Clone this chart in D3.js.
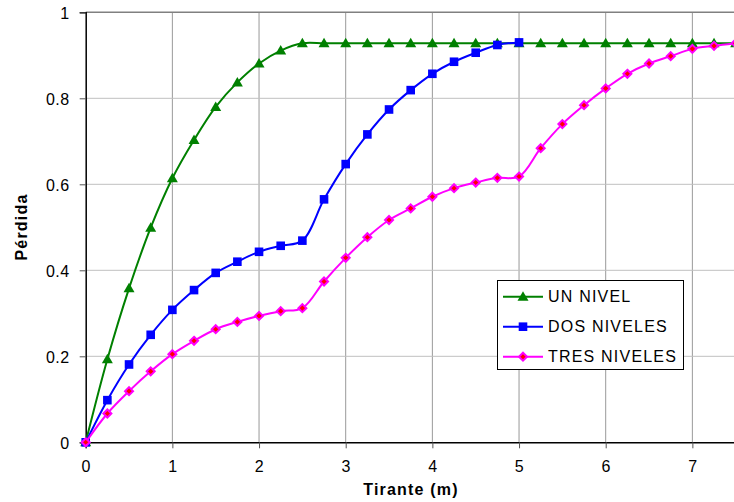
<!DOCTYPE html>
<html>
<head>
<meta charset="utf-8">
<script src="https://cdn.jsdelivr.net/npm/d3@7"></script>
<style>
  body { margin: 0; background: #fff; }
  text { font-family: "Liberation Sans", Arial, sans-serif; fill: #000; }
</style>
</head>
<body>
<div id="chart"></div>
<script>
var svgWidth = 734;
var svgHeight = 502;

// chart data
var tirante = [0, 0.25, 0.5, 0.75, 1, 1.25, 1.5, 1.75, 2, 2.25, 2.5, 2.75, 3, 3.25, 3.5, 3.75,
  4, 4.25, 4.5, 4.75, 5, 5.25, 5.5, 5.75, 6, 6.25, 6.5, 6.75, 7, 7.25, 7.5];
var unNivel = [0, 0.193, 0.358, 0.499, 0.614, 0.703, 0.780, 0.837, 0.881, 0.911, 0.928,
  0.928, 0.928, 0.928, 0.928, 0.928, 0.928, 0.928, 0.928, 0.928, 0.928,
  0.928, 0.928, 0.928, 0.928, 0.928, 0.928, 0.928, 0.928, 0.928, 0.928];
var dosNiveles = [0, 0.098, 0.181, 0.250, 0.308, 0.354, 0.394, 0.420, 0.443, 0.457, 0.469,
  0.565, 0.647, 0.716, 0.774, 0.819, 0.857, 0.885, 0.906, 0.924, 0.930];
var tresNiveles = [0, 0.067, 0.119, 0.165, 0.205, 0.236, 0.263, 0.280, 0.294, 0.305, 0.312,
  0.374, 0.429, 0.477, 0.517, 0.544, 0.571, 0.591, 0.604, 0.615, 0.618,
  0.684, 0.740, 0.784, 0.823, 0.857, 0.881, 0.898, 0.915, 0.922, 0.928];
var seriesNames = ["UN NIVEL", "DOS NIVELES", "TRES NIVELES"];
var xTicks = [0, 1, 2, 3, 4, 5, 6, 7];
var yTicks = [0, 0.2, 0.4, 0.6, 0.8, 1];

var series = [
  { name: seriesNames[0], values: unNivel, color: "#008000", shape: "triangle" },
  { name: seriesNames[1], values: dosNiveles, color: "#0000ff", shape: "square" },
  { name: seriesNames[2], values: tresNiveles, color: "#ff00ff", shape: "diamond" }
];

var svg = d3.select("#chart")
  .append("svg")
  .attr("width", svgWidth)
  .attr("height", svgHeight);

var x = d3.scaleLinear().domain([0, 7.5]).range([85.7, 735.7]);
var y = d3.scaleLinear().domain([0, 1]).range([442.3, 12.3]);

// grid
svg.append("g").selectAll("line")
  .data(xTicks.slice(1))
  .enter().append("line")
  .attr("x1", d => x(d)).attr("x2", d => x(d))
  .attr("y1", y(1)).attr("y2", y(0))
  .attr("stroke", "#999").attr("stroke-width", 1);

svg.append("g").selectAll("line")
  .data(yTicks.slice(1, -1))
  .enter().append("line")
  .attr("x1", x(0)).attr("x2", x(7.5))
  .attr("y1", d => y(d)).attr("y2", d => y(d))
  .attr("stroke", "#c0c0c0").attr("stroke-width", 1);

// top border
svg.append("line")
  .attr("x1", x(0)).attr("x2", x(7.5))
  .attr("y1", y(1)).attr("y2", y(1))
  .attr("stroke", "#808080").attr("stroke-width", 1.5);

// axes
var xAxis = svg.append("g")
  .attr("transform", `translate(0, ${y(0)})`)
  .call(d3.axisBottom(x).tickValues(xTicks).tickSize(6).tickPadding(12).tickFormat(d3.format("d")));
var yAxis = svg.append("g")
  .attr("transform", `translate(${x(0)}, 0)`)
  .call(d3.axisLeft(y).tickValues(yTicks).tickSize(6).tickPadding(10).tickFormat(d => d === 0 || d === 1 ? d : d.toFixed(1)));

[xAxis, yAxis].forEach(function(ax) {
  ax.select(".domain").attr("stroke", "#000").attr("stroke-width", 1.5);
  ax.selectAll(".tick line").attr("stroke", "#555");
  ax.selectAll(".tick text")
    .style("font-family", "'Liberation Sans', Arial, sans-serif")
    .style("font-size", "16px")
    .style("letter-spacing", "0.5px")
    .attr("fill", "#000");
});
yAxis.selectAll(".tick text").attr("dy", "0.36em");

// axis titles
svg.append("text")
  .attr("x", 411).attr("y", 495)
  .attr("text-anchor", "middle")
  .style("font-size", "16px").style("font-weight", "bold").style("letter-spacing", "1.2px")
  .text("Tirante (m)");

svg.append("text")
  .attr("transform", "translate(27, 227) rotate(-90)")
  .attr("text-anchor", "middle")
  .style("font-size", "16px").style("font-weight", "bold").style("letter-spacing", "1.2px")
  .text("Pérdida");

var line = d3.line()
  .x(d => x(d[0]))
  .y(d => y(d[1]))
  .curve(d3.curveCatmullRom);

function drawMarker(g, shape, color) {
  if (shape === "triangle") {
    g.append("path").attr("d", "M0,-5.5L5.5,4L-5.5,4Z").attr("fill", color);
  } else if (shape === "square") {
    g.append("rect").attr("x", -4.3).attr("y", -4.3).attr("width", 8.6).attr("height", 8.6).attr("fill", color);
  } else {
    g.append("path").attr("d", "M0,-4L4,0L0,4L-4,0Z")
      .attr("fill", "#ff0000").attr("stroke", color).attr("stroke-width", 2);
  }
}

series.forEach(function(s) {
  var pts = s.values.map((v, i) => [tirante[i], v]);
  svg.append("path")
    .datum(pts)
    .attr("d", line)
    .attr("fill", "none")
    .attr("stroke", s.color)
    .attr("stroke-width", 2);
  svg.append("g").selectAll("g")
    .data(pts)
    .enter().append("g")
    .attr("transform", d => `translate(${x(d[0])}, ${y(d[1])})`)
    .each(function() { drawMarker(d3.select(this), s.shape, s.color); });
});

// legend
var legend = svg.append("g");
legend.append("rect")
  .attr("x", 497.5).attr("y", 280.5).attr("width", 186).attr("height", 89)
  .attr("fill", "#fff").attr("stroke", "#000").attr("stroke-width", 1);

series.forEach(function(s, i) {
  var ly = 296.7 + i * 30;
  legend.append("line")
    .attr("x1", 503).attr("x2", 543).attr("y1", ly).attr("y2", ly)
    .attr("stroke", s.color).attr("stroke-width", 2);
  var m = legend.append("g").attr("transform", `translate(523, ${ly})`);
  drawMarker(m, s.shape, s.color);
  legend.append("text")
    .attr("x", 548).attr("y", ly + 5)
    .style("font-size", "16px").style("letter-spacing", "1.2px")
    .text(s.name);
});
</script>
</body>
</html>
